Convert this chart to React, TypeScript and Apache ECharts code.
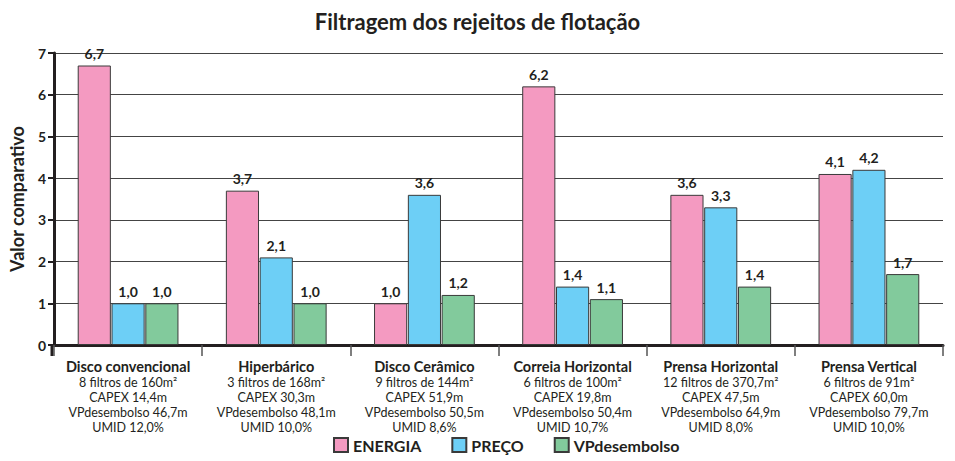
import React, { useEffect, useRef } from "react";
import * as echarts from "echarts";

const categories = ["Disco convencional", "Hiperbárico", "Disco Cerâmico", "Correia Horizontal", "Prensa Horizontal", "Prensa Vertical"];
const details = [
  ["8 filtros de 160m²", "CAPEX 14,4m", "VPdesembolso 46,7m", "UMID 12,0%"],
  ["3 filtros de 168m²", "CAPEX 30,3m", "VPdesembolso 48,1m", "UMID 10,0%"],
  ["9 filtros de 144m²", "CAPEX 51,9m", "VPdesembolso 50,5m", "UMID 8,6%"],
  ["6 filtros de 100m²", "CAPEX 19,8m", "VPdesembolso 50,4m", "UMID 10,7%"],
  ["12 filtros de 370,7m²", "CAPEX 47,5m", "VPdesembolso 64,9m", "UMID 8,0%"],
  ["6 filtros de 91m²", "CAPEX 60,0m", "VPdesembolso 79,7m", "UMID 10,0%"],
];
const energia = [6.7, 3.7, 1.0, 6.2, 3.6, 4.1];
const preco = [1.0, 2.1, 3.6, 1.4, 3.3, 4.2];
const vpdesembolso = [1.0, 1.0, 1.2, 1.1, 1.4, 1.7];

const FONT = "Lato, 'Open Sans', sans-serif";

export default function App() {
  const ref = useRef<HTMLDivElement>(null);
  useEffect(() => {
    if (!ref.current) return;
    const chart = echarts.init(ref.current, null, { renderer: "svg" });
    const mk = (name: string, data: number[], color: string) => ({
      name,
      type: "bar",
      data,
      barGap: "2%",
      barCategoryGap: "32%",
      itemStyle: { color, borderColor: "#3a3a3a", borderWidth: 1 },
      label: {
        show: true,
        position: "top",
        distance: 5,
        fontFamily: FONT,
        fontWeight: "bold",
        fontSize: 14,
        color: "#231f20",
        formatter: (p: any) => p.value.toFixed(1).replace(".", ","),
      },
    });
    chart.setOption({
      animation: false,
      textStyle: { fontFamily: FONT },
      title: {
        text: "Filtragem dos rejeitos de flotação",
        left: "center",
        top: 5,
        textStyle: { fontFamily: FONT, fontWeight: "bold", fontSize: 22, color: "#231f20" },
      },
      legend: {
        bottom: 3,
        left: 328,
        itemWidth: 14,
        itemHeight: 14,
        itemGap: 30,
        icon: "rect",
        textStyle: { fontFamily: FONT, fontWeight: "bold", fontSize: 16, color: "#231f20" },
        data: ["ENERGIA", "PREÇO", "VPdesembolso"],
      },
      grid: { left: 52, right: 12, top: 53, bottom: 116, containLabel: false },
      xAxis: {
        type: "category",
        data: categories,
        axisLine: { lineStyle: { color: "#231f20", width: 3 } },
        axisTick: { show: true, length: 11, lineStyle: { color: "#555", width: 1.5 } },
        axisLabel: {
          interval: 0,
          margin: 13,
          formatter: (v: string, i: number) =>
            `{b|${v}}\n` + details[i].map((d) => `{s|${d}}`).join("\n"),
          rich: {
            b: { fontFamily: FONT, fontWeight: "bold", fontSize: 14.5, color: "#231f20", lineHeight: 17 },
            s: { fontFamily: FONT, fontSize: 12.5, color: "#231f20", lineHeight: 15 },
          },
        },
      },
      yAxis: {
        type: "value",
        min: 0,
        max: 7,
        interval: 1,
        name: "Valor comparativo",
        nameLocation: "middle",
        nameGap: 28,
        nameTextStyle: { fontFamily: FONT, fontWeight: "bold", fontSize: 18, color: "#231f20" },
        axisLine: { show: true, lineStyle: { color: "#231f20", width: 3 } },
        axisTick: { show: true, length: 6, lineStyle: { color: "#231f20", width: 2 } },
        axisLabel: { fontFamily: FONT, fontWeight: "bold", fontSize: 14, color: "#231f20", margin: 8 },
        splitLine: { show: true, lineStyle: { color: "#444", width: 1 } },
      },
      graphic: [
        { type: "line", shape: { x1: 52, y1: 345, x2: 52, y2: 356 }, style: { stroke: "#231f20", lineWidth: 3 } },
      ],
      series: [
        mk("ENERGIA", energia, "#f49ac1"),
        mk("PREÇO", preco, "#6dcff6"),
        mk("VPdesembolso", vpdesembolso, "#82ca9c"),
      ],
    });
    return () => chart.dispose();
  }, []);
  return <div ref={ref} style={{ width: 955, height: 461, position: "absolute", left: 0, top: 0 }} />;
}
